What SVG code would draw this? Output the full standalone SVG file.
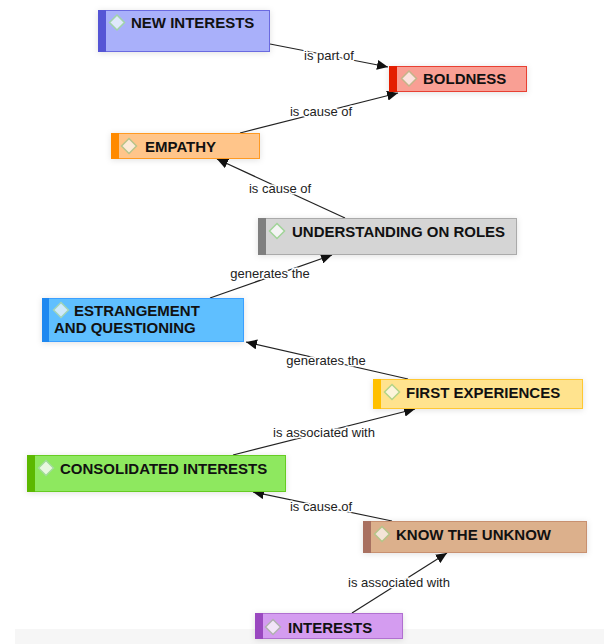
<svg xmlns="http://www.w3.org/2000/svg" width="604" height="644" viewBox="0 0 604 644">
<style>
.nt{font-family:"Liberation Sans",Arial,sans-serif;font-weight:bold;font-size:15px;fill:#111}
.lb{font-family:"Liberation Sans",Arial,sans-serif;font-size:13px;fill:#222;text-anchor:middle;stroke:#fff;stroke-width:3;paint-order:stroke;stroke-linejoin:round}
.ed{stroke:#222;stroke-width:1.2;fill:none;marker-end:url(#ah)}
.box{filter:url(#sh)}
.dm{stroke-width:1.5}
</style>
<defs>
<marker id="ah" markerWidth="12" markerHeight="10" refX="11" refY="5" orient="auto" markerUnits="userSpaceOnUse">
<path d="M0,0 L11,5 L0,10 z" fill="#111"/>
</marker>
<filter id="sh" x="-10%" y="-30%" width="120%" height="160%">
<feDropShadow dx="0" dy="1" stdDeviation="3" flood-color="#000" flood-opacity="0.12"/>
</filter>
</defs>
<rect x="15" y="629" width="589" height="15" fill="#f6f6f6"/>
<g id="connectors">
<line class="ed" x1="270" y1="44" x2="388" y2="67"/>
<line class="ed" x1="240" y1="133" x2="398" y2="93"/>
<line class="ed" x1="345" y1="218" x2="217" y2="159"/>
<line class="ed" x1="210" y1="298" x2="332" y2="255"/>
<line class="ed" x1="408" y1="379" x2="246" y2="342"/>
<line class="ed" x1="233" y1="455" x2="415" y2="409"/>
<line class="ed" x1="392" y1="521" x2="253" y2="492"/>
<line class="ed" x1="352" y1="613" x2="447" y2="553"/>
<text class="lb" x="329" y="60">is part of</text>
<text class="lb" x="321" y="116">is cause of</text>
<text class="lb" x="280" y="193">is cause of</text>
<text class="lb" x="270" y="278">generates the</text>
<text class="lb" x="326" y="365">generates the</text>
<text class="lb" x="324" y="437">is associated with</text>
<text class="lb" x="321" y="511">is cause of</text>
<text class="lb" x="399" y="587">is associated with</text>
</g>
<g id="n-new-interests">
<rect class="box" x="98.5" y="10.5" width="171" height="41" fill="#a9b0fa" stroke="#6a6ae0"/>
<rect x="98" y="10" width="8" height="42" fill="#5555d5"/>
<path class="dm" d="M117,15 L124.5,22.5 L117,30 L109.5,22.5 z" fill="#dfe8fb" stroke="#a0d4a8"/>
<text class="nt" x="131" y="28">NEW INTERESTS</text>
</g>
<g id="n-boldness">
<rect class="box" x="389.5" y="66.5" width="137" height="25" fill="#f99f94" stroke="#e84030"/>
<rect x="389" y="66" width="8" height="26" fill="#e41e00"/>
<path class="dm" d="M409,71 L416.5,78.5 L409,86 L401.5,78.5 z" fill="#fde2de" stroke="#c4b48a"/>
<text class="nt" x="423" y="84">BOLDNESS</text>
</g>
<g id="n-empathy">
<rect class="box" x="111.5" y="133.5" width="148" height="25" fill="#ffc58a" stroke="#ff9a20"/>
<rect x="111" y="133" width="8" height="26" fill="#ff8a00"/>
<path class="dm" d="M129,138.5 L136.5,146 L129,153.5 L121.5,146 z" fill="#fdebd8" stroke="#b8c48a"/>
<text class="nt" x="145" y="152">EMPATHY</text>
</g>
<g id="n-understanding">
<rect class="box" x="258.5" y="218.5" width="258" height="36" fill="#d5d5d5" stroke="#aaaaaa"/>
<rect x="258" y="218" width="8" height="37" fill="#7f7f7f"/>
<path class="dm" d="M277,223.5 L284.5,231 L277,238.5 L269.5,231 z" fill="#f4f4f4" stroke="#a0d498"/>
<text class="nt" x="292" y="237">UNDERSTANDING ON ROLES</text>
</g>
<g id="n-estrangement">
<rect class="box" x="42.5" y="298.5" width="201" height="43" fill="#5fbfff" stroke="#3aa0ff"/>
<rect x="42" y="298" width="7" height="44" fill="#1e88f0"/>
<path class="dm" d="M61,302.5 L68.5,310 L61,317.5 L53.5,310 z" fill="#cfeafc" stroke="#a0d4b8"/>
<text class="nt"><tspan x="74" y="315.5">ESTRANGEMENT</tspan><tspan x="54" y="333">AND QUESTIONING</tspan></text>
</g>
<g id="n-first-experiences">
<rect class="box" x="373.5" y="379.5" width="209" height="29" fill="#ffe38e" stroke="#ffc830"/>
<rect x="373" y="379" width="8" height="30" fill="#ffc000"/>
<path class="dm" d="M392,384.5 L399.5,392 L392,399.5 L384.5,392 z" fill="#fdf5dc" stroke="#b4d488"/>
<text class="nt" x="406" y="398">FIRST EXPERIENCES</text>
</g>
<g id="n-consolidated-interests">
<rect class="box" x="27.5" y="455.5" width="258" height="36" fill="#8ee85e" stroke="#66cc22"/>
<rect x="27" y="455" width="8" height="37" fill="#5cb800"/>
<path class="dm" d="M46,460.5 L53.5,468 L46,475.5 L38.5,468 z" fill="#e8f8e0" stroke="#a0dc98"/>
<text class="nt" x="60" y="474">CONSOLIDATED INTERESTS</text>
</g>
<g id="n-know-the-unknow">
<rect class="box" x="363.5" y="521.5" width="223" height="31" fill="#dcb08c" stroke="#c89070"/>
<rect x="363" y="521" width="8" height="32" fill="#a87060"/>
<path class="dm" d="M382,526.5 L389.5,534 L382,541.5 L374.5,534 z" fill="#f4e4d8" stroke="#b4c488"/>
<text class="nt" x="396" y="540">KNOW THE UNKNOW</text>
</g>
<g id="n-interests">
<rect class="box" x="255.5" y="613.5" width="147" height="25" fill="#d49cf0" stroke="#b070d0"/>
<rect x="255" y="613" width="8" height="26" fill="#9a48c0"/>
<path class="dm" d="M273,619.5 L280.5,627 L273,634.5 L265.5,627 z" fill="#f2e4f8" stroke="#b0b0b0"/>
<text class="nt" x="288" y="633">INTERESTS</text>
</g>
</svg>
